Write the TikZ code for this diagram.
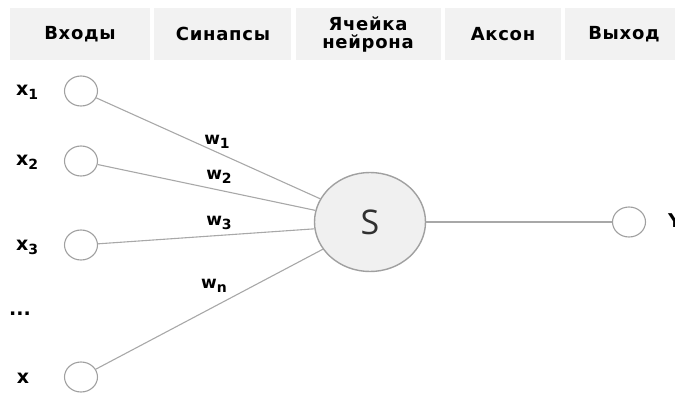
\documentclass[tikz,border=0pt]{standalone}
\usepackage{fontspec}
\setmainfont{DejaVu Sans}
\newfontfamily\headfont[LetterSpace=4]{DejaVu Sans}
\newfontfamily\symfont{Open Sans}
\usetikzlibrary{shapes.geometric}
\definecolor{headbg}{HTML}{F2F2F2}
\definecolor{rimgray}{HTML}{A0A0A0}
\definecolor{wiregray}{HTML}{A8A8A8}
\definecolor{somagray}{HTML}{F0F0F0}
\definecolor{inkdark}{HTML}{303030}
% lowered index digit in the label font
\newcommand{\idx}[1]{\raisebox{-0.4ex}{\fontsize{14}{14}\selectfont #1}}
\tikzset{
  headbox/.style={fill=headbg, draw=none},
  headtext/.style={font=\headfont\bfseries\fontsize{18}{18}\selectfont, align=center, text=black},
  inport/.style={ellipse, draw=rimgray, line width=1.1pt, fill=white,
                 minimum width=33pt, minimum height=30pt, inner sep=0pt},
  soma/.style={ellipse, draw=rimgray, line width=1.4pt, fill=somagray,
               minimum width=111pt, minimum height=99pt, inner sep=0pt,
               font=\symfont\fontsize{34}{34}\selectfont, text=inkdark},
  wire/.style={draw=wiregray, line width=1.1pt},
  lbl/.style={font=\bfseries\fontsize{19}{19}\selectfont, text=black, inner sep=0pt},
  wlbl/.style={font=\bfseries\fontsize{17}{17}\selectfont, text=black, inner sep=0pt}
}
\begin{document}
\begin{tikzpicture}[x=1pt, y=-1pt]
  \useasboundingbox (0,0) rectangle (675,394);
  \clip (0,0) rectangle (675,394);

  % column headers
  \fill[headbox] (10,8) rectangle (150,60);
  \fill[headbox] (154,8) rectangle (291,60);
  \fill[headbox] (296,8) rectangle (441,60);
  \fill[headbox] (445,8) rectangle (561,60);
  \fill[headbox] (565,8) rectangle (680,60);
  \node[headtext] (h1) at (80,34) {Входы};
  \node[headtext] (h2) at (223,34) {Синапсы};
  \node[headtext] (h3) at (368,34) {Ячейка\\нейрона};
  \node[headtext] (h4) at (503,34) {Аксон};
  \node[headtext] (h5) at (624,34) {Выход};

  % inputs
  \node[inport] (x1) at (81,91) {};
  \node[inport] (x2) at (81,161) {};
  \node[inport] (x3) at (81,245) {};
  \node[inport] (xn) at (81,377) {};
  \node[lbl] (lx1) at (27,92) {x\idx{1}};
  \node[lbl] (lx2) at (27,162) {x\idx{2}};
  \node[lbl] (lx3) at (27,247) {x\idx{3}};
  \node[lbl] (ldots) at (20,314) {...};
  \node[lbl] (lxn) at (23,378) {x};

  % neuron body and output
  \node[soma] (S) at (370,222) {S};
  \node[inport] (y) at (629,222) {};
  \node[lbl, anchor=west] (ly) at (668,221) {Y};

  % synapses
  \draw[wire] (x1) -- (S.155);
  \draw[wire] (x2) -- (S.168);
  \draw[wire] (x3) -- (S.187);
  \draw[wire] (xn) -- (S.210);
  \draw[wire] (S) -- (y);

  % weights
  \node[wlbl] (w1) at (217,142) {w\idx{1}};
  \node[wlbl] (w2) at (219,177) {w\idx{2}};
  \node[wlbl] (w3) at (219,223) {w\idx{3}};
  \node[wlbl] (wn) at (214,286) {w\idx{n}};
\end{tikzpicture}
\end{document}
